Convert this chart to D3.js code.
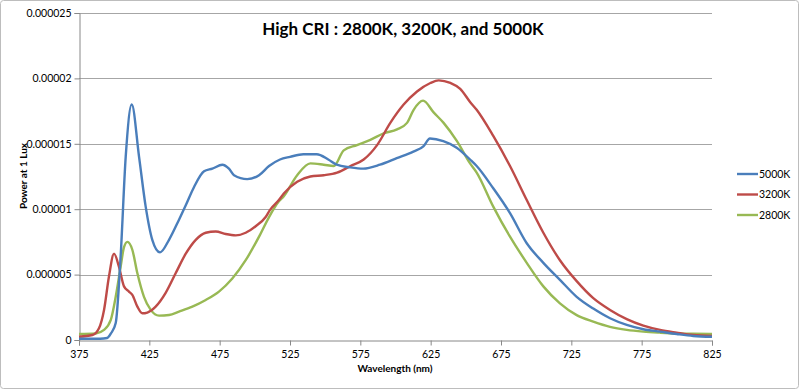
<!DOCTYPE html>
<html>
<head>
<meta charset="utf-8">
<script src="https://cdn.jsdelivr.net/npm/d3@7"></script>
<style>
  body { margin: 0; background: #fff; }
  text { font-family: Lato, "Open Sans", sans-serif; fill: #000; }
</style>
</head>
<body>
<div id="chart"></div>
<script>
// Spectral power at 1 lux (units of 1e-6)
const UNIT = 1e-6

const wl5000 = [375, 390, 395, 397.7, 401.1, 404.6, 408.2, 412.5, 417.7, 422.4, 427.1, 432.6, 439, 446.1, 450.9, 456.8, 463.9, 469.8, 476.9, 481.6, 485.2, 494.6, 503, 510.1, 517.9, 525, 534.5, 544, 552.2, 558.2, 567.7, 577.1, 589, 600.9, 612.7, 619.8, 624.5, 634, 643.5, 653, 657.7, 669.5, 681.4, 693.3, 705.1, 716.9, 728.8, 740.6, 752.5, 764.4, 776.2, 788.1, 799.9, 811.7, 825]
const pw5000 = [0.1, 0.1, 0.15, 0.5, 1.3, 6.4, 14.0, 18.0, 14.0, 10.2, 7.66, 6.7, 7.66, 9.2, 10.3, 11.7, 12.9, 13.1, 13.4, 13.1, 12.6, 12.3, 12.6, 13.3, 13.8, 14.0, 14.2, 14.2, 13.8, 13.4, 13.2, 13.1, 13.4, 13.9, 14.4, 14.8, 15.4, 15.2, 14.7, 13.8, 13.3, 11.6, 9.7, 7.4, 5.9, 4.6, 3.3, 2.4, 1.66, 1.15, 0.82, 0.64, 0.46, 0.31, 0.25]

const wl3200 = [375, 384.5, 389.2, 392.8, 396.3, 399.9, 403.4, 407, 410.5, 412.9, 416.5, 420, 423.6, 429.5, 436.6, 443.7, 450.9, 458, 465.1, 472.2, 479.3, 486.4, 493.5, 500.6, 507.7, 510.8, 517.1, 520.6, 530.1, 539.5, 549, 558.5, 568, 577.4, 586.9, 596.3, 605.8, 615.3, 624.8, 630.7, 639, 646, 653, 657.7, 669.5, 681.4, 693.3, 705.1, 716.9, 728.8, 740.6, 752.5, 764.4, 776.2, 788.1, 799.9, 811.7, 825]
const pw3200 = [0.25, 0.38, 0.9, 2.3, 4.85, 6.6, 5.6, 4.1, 3.7, 3.45, 2.55, 2.04, 2.1, 2.55, 3.6, 5.1, 6.6, 7.66, 8.2, 8.3, 8.1, 8.0, 8.2, 8.7, 9.4, 9.95, 10.7, 11.2, 12.1, 12.5, 12.6, 12.8, 13.3, 13.8, 14.9, 16.6, 18.0, 19.0, 19.65, 19.85, 19.65, 19.2, 18.2, 17.6, 15.6, 13.3, 10.7, 8.2, 6.1, 4.5, 3.2, 2.3, 1.6, 1.1, 0.77, 0.56, 0.38, 0.31]

const wl2800 = [375, 386.9, 392.8, 397.6, 401.1, 404.6, 407, 409.4, 412.9, 416.5, 421.2, 426, 431.9, 439, 446.1, 455.6, 465.1, 474.5, 484, 493.5, 503, 510.1, 517.1, 520.6, 530.1, 539.5, 549, 556.1, 563.2, 572.6, 582.1, 591.6, 601.1, 608.2, 612.9, 619.6, 627.1, 634.2, 643.7, 653, 657.7, 669.5, 681.4, 693.3, 705.1, 716.9, 728.8, 740.6, 752.5, 764.4, 776.2, 788.1, 799.9, 811.7, 825]
const pw2800 = [0.46, 0.5, 0.77, 1.53, 3.3, 5.6, 7.1, 7.5, 6.9, 5.1, 3.3, 2.3, 1.86, 1.91, 2.17, 2.55, 3.06, 3.7, 4.7, 6.1, 7.9, 9.4, 10.6, 11.0, 12.6, 13.5, 13.4, 13.3, 14.5, 14.9, 15.3, 15.8, 16.1, 16.6, 17.6, 18.3, 17.4, 16.6, 15.2, 13.5, 12.8, 10.2, 7.9, 5.9, 4.1, 2.8, 1.9, 1.4, 1.0, 0.77, 0.64, 0.56, 0.5, 0.48, 0.46]

const seriesNames = ['5000K', '3200K', '2800K']
const seriesColors = ['#4a7ebb', '#be4b48', '#98b954']
const xTicks = [375, 425, 475, 525, 575, 625, 675, 725, 775, 825]
const yTicks = [0, 0.000005, 0.00001, 0.000015, 0.00002, 0.000025]
const yTickLabels = ['0', '0.000005', '0.00001', '0.000015', '0.00002', '0.000025']

const width = 800
const height = 390
const margin = { top: 13, right: 88, bottom: 50, left: 79 }

const svg = d3.select('#chart')
  .append('svg')
  .attr('width', width)
  .attr('height', height)

// outer frame
svg.append('rect')
  .attr('x', 0.5).attr('y', 0.5)
  .attr('width', width - 2).attr('height', height - 2)
  .attr('rx', 3)
  .attr('fill', '#fff')
  .attr('stroke', '#bdbdbd')

const x = d3.scaleLinear().domain([375, 825]).range([margin.left, width - margin.right - 0])
const y = d3.scaleLinear().domain([0, 0.000025]).range([height - margin.bottom, margin.top])

// gridlines
svg.append('g')
  .selectAll('line')
  .data(yTicks.slice(1))
  .join('line')
  .attr('x1', x(375)).attr('x2', x(825))
  .attr('y1', d => Math.round(y(d)) + 0.5).attr('y2', d => Math.round(y(d)) + 0.5)
  .attr('stroke', '#a6a6a6')

// y axis
const yAxis = svg.append('g')
  .attr('transform', `translate(${margin.left + 0.5},0)`)
  .call(d3.axisLeft(y).tickValues(yTicks).tickSize(5).tickPadding(3)
    .tickFormat((d, i) => yTickLabels[i]))
yAxis.selectAll('text').style('font-size', '10.5px')

// x axis
const xAxis = svg.append('g')
  .attr('transform', `translate(0,${Math.round(y(0)) + 0.5})`)
  .call(d3.axisBottom(x).tickValues(xTicks).tickSize(5).tickPadding(5).tickFormat(d3.format('d')))
xAxis.selectAll('text').style('font-size', '10.5px')

svg.selectAll('.domain, .tick line').attr('stroke', '#888')

// lines
const series = [
  { name: seriesNames[0], color: seriesColors[0], wl: wl5000, pw: pw5000 },
  { name: seriesNames[1], color: seriesColors[1], wl: wl3200, pw: pw3200 },
  { name: seriesNames[2], color: seriesColors[2], wl: wl2800, pw: pw2800 }
]

const line = d3.line()
  .x(d => x(d[0]))
  .y(d => y(d[1] * UNIT))
  .curve(d3.curveMonotoneX)

// draw 2800K first so 5000K is on top like the original
series.slice().reverse().forEach(s => {
  svg.append('path')
    .datum(s.wl.map((w, i) => [w, s.pw[i]]))
    .attr('fill', 'none')
    .attr('stroke', s.color)
    .attr('stroke-width', 2.4)
    .attr('stroke-linejoin', 'round')
    .attr('d', line)
})

// legend
const legend = svg.append('g')
  .selectAll('g')
  .data(series)
  .join('g')
  .attr('transform', (d, i) => `translate(737,${174 + i * 20.5})`)
legend.append('line')
  .attr('x1', 0).attr('x2', 21)
  .attr('stroke', d => d.color)
  .attr('stroke-width', 2.4)
legend.append('text')
  .attr('x', 22).attr('dy', '0.35em')
  .style('font-size', '10.5px')
  .text(d => d.name)

// title
svg.append('text')
  .attr('x', 403).attr('y', 35)
  .attr('text-anchor', 'middle')
  .style('font-size', '17px')
  .style('font-weight', 'bold')
  .text('High CRI : 2800K, 3200K, and 5000K')

// axis titles
svg.append('text')
  .attr('x', 395).attr('y', 372)
  .attr('text-anchor', 'middle')
  .style('font-size', '10px')
  .style('font-weight', 'bold')
  .text('Wavelength (nm)')

svg.append('text')
  .attr('transform', 'translate(27,176) rotate(-90)')
  .attr('text-anchor', 'middle')
  .style('font-size', '10px')
  .style('font-weight', 'bold')
  .text('Power at 1 Lux')
</script>
</body>
</html>
